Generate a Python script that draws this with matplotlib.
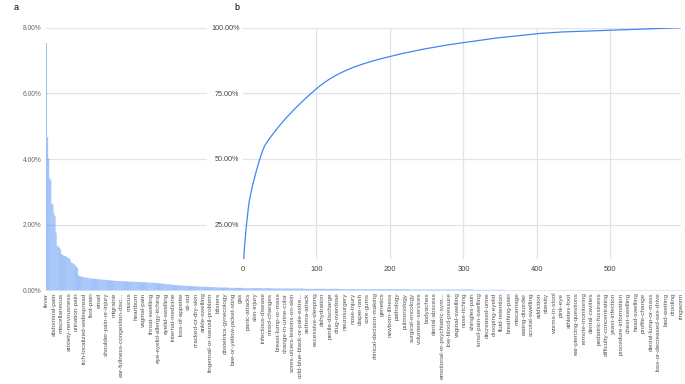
import numpy as np
import matplotlib
matplotlib.use("Agg")
import matplotlib.pyplot as plt
from matplotlib.patches import Rectangle

plt.rcParams['font.family'] = ['Liberation Sans', 'DejaVu Sans']

# counts per category, sorted descending
counts = [
    750, 465, 400, 340, 335, 265, 260, 235, 225, 175,
    135, 133, 130, 125,
    110, 108, 106, 105, 104, 102, 100, 98, 96,
    86, 84, 82, 80, 76, 72, 68,
    46, 44, 43, 42, 41, 40, 40, 39,
    38, 38, 37, 37, 36, 36, 36, 35, 35, 35, 34, 34, 34, 33, 33, 33, 33, 32, 32, 32, 31, 31,
    31, 30, 30, 30, 30, 29, 29, 29, 29, 29, 28, 28, 28, 28, 28, 28, 27, 27, 27, 27,
    27, 27, 26, 26, 26, 26, 26, 26, 25, 25, 25, 25, 25, 25, 25, 24, 24, 24, 24, 24, 24,
    23, 23, 23, 22, 22, 22, 21, 21, 21, 20, 20, 20, 19, 19, 19, 18, 18, 18, 17, 17, 17,
    16, 16, 16, 16, 15, 15, 15, 15, 14, 14, 14, 14, 14, 13, 13, 13, 13, 13,
    12, 12, 12, 12, 12, 12, 11, 11, 11, 11, 11, 11, 11, 10, 10, 10, 10, 10, 10, 10, 10,
    9, 9, 9, 9, 9, 9, 9, 9, 9, 9, 8, 8, 8, 8, 8, 8, 8, 8, 8, 8, 8, 8, 8, 8,
    7, 7, 7, 7, 7, 7, 7, 7, 7, 7, 7, 7, 7, 7, 7, 7,
    7, 7, 7, 7, 7, 7, 7, 7, 7, 7, 6, 6, 6, 6, 6, 6, 6, 6, 6, 6,
    6, 6, 6, 6, 6, 6, 6, 6, 6, 6, 6, 6, 6, 6, 6, 6, 6, 6, 6, 6,
    5, 5, 5, 5, 5, 5, 5, 5, 5, 5, 5, 5, 5, 5, 5, 5, 5, 5, 5, 5,
    5, 5, 5, 5, 5, 5, 5, 5, 5, 5, 5, 5, 5, 5, 5, 4, 4, 4, 4, 4,
    4, 4, 4, 4, 4, 4, 4, 4, 4, 4, 4, 4, 4, 4, 4, 4, 4, 4, 4, 4,
    4, 4, 4, 4, 4, 4, 4, 4, 4, 4, 4, 4, 4, 4, 4, 4, 4, 4, 4, 4,
    4, 4, 4, 4, 4, 4, 4, 4, 4, 4, 4, 4, 4, 4, 4, 4, 4, 4, 4, 4,
    3, 3, 3, 3, 3, 3, 3, 3, 3, 3, 3, 3, 3, 3, 3, 3, 3, 3, 3, 3,
    3, 3, 3, 3, 3, 3, 3, 3, 3, 3, 3, 3, 3, 3, 3, 3, 3, 3, 3, 3,
    3, 3, 3, 3, 3, 3, 3, 3, 3, 3, 3, 3, 3, 3, 3, 3, 3, 3, 3, 3,
    2, 2, 2, 2, 2, 2, 2, 2, 2, 2, 2, 2, 2, 2, 2, 2, 2, 2, 2, 2,
    2, 2, 2, 2, 2, 2, 2, 2, 2, 2, 1, 1, 1, 1, 1, 1, 1, 1, 1, 1,
    1, 1, 1, 1, 1, 1, 1, 1, 1, 1, 1, 1, 1, 1, 1, 1, 1, 1, 1, 1,
    1, 1, 1, 1, 1, 1, 1, 1, 1, 1, 1, 1, 1, 1, 1, 1, 1, 1, 1, 1,
    1, 1, 1, 1, 1, 1, 1, 1, 1, 1, 1, 1, 1, 1, 1, 1, 1, 1, 1, 1,
    1, 1, 1, 1, 1, 1, 1, 1, 1, 1, 1, 1, 1, 1, 1, 1, 1, 1, 1, 1,
    1, 1, 1, 1, 1, 1, 1, 1, 1, 1, 1, 1, 1, 1, 1, 1, 1, 1, 1, 1,
    1, 1, 1, 1, 1, 1, 1, 1, 1, 1, 1, 1, 1, 1, 1, 1, 1, 1, 1, 1,
    1, 1, 1, 1, 1, 1, 1, 1, 1, 1, 1, 1, 1, 1, 1, 1, 1, 1, 1, 1,
    1, 1, 1, 1, 1, 1, 1, 1, 1, 1, 1, 1, 1, 1, 1, 1,
]

# every 7th category is labelled on the axis
tick_labels = [
    "fever", "abdominal-pain", "miscellaneous", "anxiety-nervousness",
    "urination-pain", "itch-localized-widespread", "foot-pain", "email",
    "shoulder-pain-or-injury", "migraine", "ear-fullness-congestion-disc...",
    "mucus", "heartburn", "vaginal-pain", "throat-swelling",
    "eye-eyelid-allergy-itching", "eyelid-swelling", "internal-medicine",
    "loss-of-appetite", "sti-std", "cracked-or-dry-skin", "ankle-swelling",
    "fingernail-or-toenail-problem", "blisters", "obstetrics-gynecology",
    "bee-or-yellow-jacket-sting", "gas", "panic-attacks", "skin-injury",
    "infectious-disease", "mood-changes", "breast-lump-or-mass",
    "change-in-urine-color", "sores-ulcers-lesions-on-skin",
    "cold-blue-black-or-pale-extre...", "asthma-attack", "excessive-sleeping",
    "dehydration", "penile-discharge", "drug-overdose", "neurosurgery",
    "nose-injury", "diaper-rash", "sore-gums", "clinical-decision-making",
    "genetics", "newborn-illness", "pathology", "pulmonology",
    "surgical-oncology", "volunteer-services", "bodyaches", "dental-abscess",
    "emotional-or-psychiatric-sym...", "low-blood-pressure", "vaginal-swelling",
    "nose-itching", "shingles-pain", "tonsil-pain-swelling", "decreased-urine",
    "drooping-eyelid", "fluid-retention", "breathing-pain", "miscarriage",
    "eating-disorder", "scrotal-swelling", "addiction", "obesity",
    "worms-in-stool", "pink-eye", "athletes-foot", "ear-piercing-questions",
    "remote-monitoring", "dental-cavities", "pediatric-fussiness",
    "difficulty-concentrating", "yeast-infection", "procedure-information",
    "chest-swelling", "head-swelling", "profile-change", "dental-lump-or-mass",
    "loss-or-decreased-sex-drive", "bed-wetting", "drooling", "ringworm",
]
label_step = 7

bar_yticks = [0, 2, 4, 6, 8]
cum_yticks = [25, 50, 75, 100]
cum_xticks = [0, 100, 200, 300, 400, 500]

pct = np.array(counts, dtype=float) / sum(counts) * 100
cum_pct = np.cumsum(pct)
x = np.arange(len(pct))

W, H = 685, 384
fig = plt.figure(figsize=(W / 100, H / 100), dpi=100)


def px_box(left, top, right, bottom):
    return [left / W, 1 - bottom / H, (right - left) / W, (bottom - top) / H]


grid_c = '#e3e3e3'

# ---- panel a: distribution bars
ax_a = fig.add_axes(px_box(46, 27.7, 682.5, 290.5))
bars = ax_a.bar(x, pct, width=1.0, color='#4285f4', alpha=0.5, linewidth=0)
for b in bars:
    b.set_snap(False)
ax_a.set_xlim(-0.5, len(pct) - 0.5)
ax_a.set_ylim(0, 8)
ax_a.set_yticks(bar_yticks)
ax_a.set_yticklabels([f"{v:.2f}%" for v in bar_yticks])
ax_a.yaxis.grid(True, color=grid_c, lw=0.9)
ax_a.set_axisbelow(True)
pos = x[::label_step][:len(tick_labels)]
ax_a.set_xticks(pos)
ax_a.set_xticklabels(tick_labels[:len(pos)], rotation=90, ha='center', va='top')
ax_a.tick_params(axis='x', length=0, pad=1.5, labelsize=4.6, labelcolor='#555555')
ax_a.tick_params(axis='y', length=0, pad=3, labelsize=4.8, labelcolor='#666666')
for s in ax_a.spines.values():
    s.set_visible(False)

# white backing so the inset hides panel a's gridlines
fig.add_artist(Rectangle((207 / W, 1 - 275 / H), (W - 207) / W, 275 / H,
                         transform=fig.transFigure, facecolor='white',
                         edgecolor='none', zorder=1))

# ---- panel b: cumulative share
ax_b = fig.add_axes(px_box(243, 27.7, 681, 258.7))
ax_b.set_zorder(2)
ax_b.set_facecolor('white')
ax_b.plot(x, cum_pct, color='#4285f4', lw=0.9)
ax_b.set_xlim(0, len(pct) - 1)
ax_b.set_ylim(12, 100)
ax_b.set_yticks(cum_yticks)
ax_b.set_yticklabels([f"{v:.2f}%" for v in cum_yticks])
ax_b.yaxis.grid(True, color=grid_c, lw=0.9)
for t in cum_xticks[1:]:
    ax_b.axvline(t, color=grid_c, lw=0.9, zorder=0)
ax_b.set_xticks(cum_xticks)
ax_b.tick_params(axis='x', length=0, pad=5, labelsize=5.5, labelcolor='#444444')
ax_b.tick_params(axis='y', length=0, pad=2.5, labelsize=5.2, labelcolor='#444444')
ax_b.set_axisbelow(True)
for s in ax_b.spines.values():
    s.set_visible(False)

fig.text(14 / W, 1 - 8 / H, "a", fontsize=6.5, va='center', ha='left')
fig.text(234 / W, 1 - 8 / H, "b", fontsize=6.5, va='center', ha='left')

fig.savefig("out.png", dpi=100)
